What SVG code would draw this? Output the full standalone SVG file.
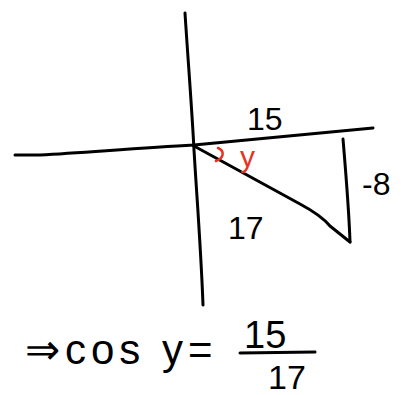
<svg xmlns="http://www.w3.org/2000/svg" width="402" height="395" viewBox="0 0 402 395">
<style>
.ink{fill:none;stroke:#000;stroke-width:3;stroke-linecap:round;stroke-linejoin:round}
.red{fill:none;stroke:#e8321e;stroke-width:2.5;stroke-linecap:round}
.t{font-family:"Liberation Sans",Arial,sans-serif;fill:#000}
.tr{font-family:"Liberation Sans",Arial,sans-serif;fill:#e8321e}
</style>
<rect width="402" height="395" fill="#fff"/>
<g id="axes">
<path class="ink" d="M185,13 C188,60 192,110 194,150 C197,200 201,250 203,305"/>
<path class="ink" d="M15,155 L40,155 C90,152 140,148 194,145 C260,139 320,133 373,128"/>
</g>
<g id="triangle">
<path class="ink" d="M194,146 L300,204 C315,212 325,220 330,226 L350,242"/>
<path class="ink" d="M343,139 C346,175 349,210 350,242"/>
</g>
<g id="angle">
<path class="red" d="M218,148 C225,151 224,158 216,161"/>
<text class="tr" x="240" y="167" font-size="30">y</text>
</g>
<g id="labels">
<text class="t" x="247" y="130" font-size="32">15</text>
<text class="t" x="362" y="195" font-size="32">-8</text>
<text class="t" x="228" y="239" font-size="32">17</text>
</g>
<g id="equation">
<text class="t" x="25" y="364" font-size="42" letter-spacing="5">⇒cos y=</text>
<text class="t" x="244" y="348" font-size="38">15</text>
<line class="ink" x1="240" y1="353" x2="315" y2="352"/>
<text class="t" x="268" y="389" font-size="34">17</text>
</g>
</svg>
